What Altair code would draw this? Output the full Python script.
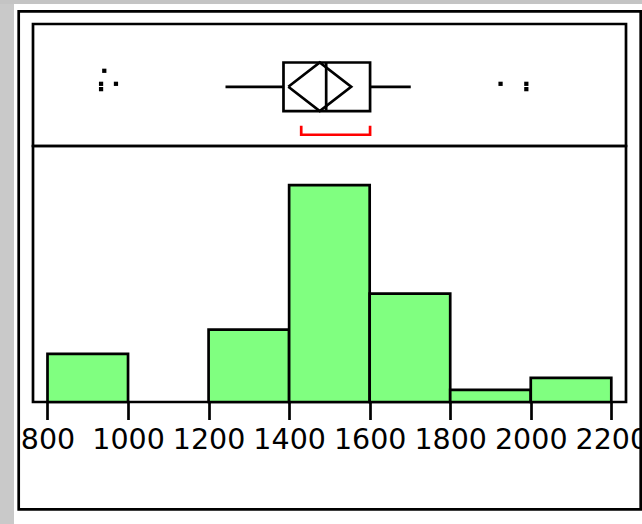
import altair as alt
import pandas as pd

# Histogram bins (width 200) and their counts
bin_starts = [800, 1000, 1200, 1400, 1600, 1800, 2000]
bin_width = 200
bin_counts = [4, 0, 6, 18, 9, 1, 2]

# Outlier box plot summary
quartiles = [1386, 1492, 1601]          # Q1, median, Q3
whiskers = [1242, 1702]                 # lower / upper whisker ends
mean_diamond = [1398, 1476, 1554]       # lower CI, mean, upper CI
shortest_half = [1430, 1601]

# Points beyond the whiskers and their vertical jitter
outlier_values = [941, 933, 933, 970, 1925, 1989, 1989]
outlier_jitter = [0.27, 0.05, -0.04, 0.05, 0.05, 0.05, -0.04]

tick_values = [800, 1000, 1200, 1400, 1600, 1800, 2000, 2200]

PANEL_W = 593
BOX_H = 122
HIST_H = 256
LINE_W = 2.7
HALF = 0.41        # half height of the box, in box-panel units
BRACKET = (-0.66, -0.81)

# page size and where the first panel starts
PAGE_W, PAGE_H = 642, 524
LEFT, TOP = 33, 24

xscale = alt.Scale(domain=[764, 2236.5], nice=False, zero=False)
yscale_box = alt.Scale(domain=[-1, 1.06], nice=False, zero=False)
yscale_hist = alt.Scale(domain=[0, 21.25], nice=False, zero=True)

# ---------- box plot panel ----------
one_row = alt.Data(values=[{}])

box_df = pd.DataFrame({"lo": [quartiles[0]], "hi": [quartiles[2]], "med": [quartiles[1]]})
whisker_df = pd.DataFrame({"a": [whiskers[0], quartiles[2]], "b": [quartiles[0], whiskers[1]]})
lo_ci, mean_v, hi_ci = mean_diamond
diamond_df = pd.DataFrame({
    "value": [lo_ci, mean_v, hi_ci, mean_v, lo_ci],
    "pos": [0, HALF, 0, -HALF, 0],
    "k": [0, 1, 2, 3, 4],
})
bracket_df = pd.DataFrame({
    "value": [shortest_half[0], shortest_half[0], shortest_half[1], shortest_half[1]],
    "pos": [BRACKET[0], BRACKET[1], BRACKET[1], BRACKET[0]],
    "k": [0, 1, 2, 3],
})
outlier_df = pd.DataFrame({"value": outlier_values, "pos": outlier_jitter})


def x_enc(field):
    return alt.X(field, scale=xscale, axis=None)


# window chrome and outer frame
chrome_left = alt.Chart(one_row).mark_rect(color="#c9c9c9").encode(
    x=alt.value(-LEFT), x2=alt.value(-LEFT + 14),
    y=alt.value(-TOP), y2=alt.value(PAGE_H - TOP),
)
chrome_top = alt.Chart(one_row).mark_rect(color="#c4c4c4").encode(
    x=alt.value(-LEFT), x2=alt.value(PAGE_W - LEFT),
    y=alt.value(-TOP), y2=alt.value(-TOP + 4),
)
outer_frame = alt.Chart(one_row).mark_rect(
    fill="white", fillOpacity=0, stroke="black", strokeWidth=LINE_W
).encode(
    x=alt.value(18.7 - LEFT), x2=alt.value(640.7 - LEFT),
    y=alt.value(11.3 - TOP), y2=alt.value(509.3 - TOP),
)

box = alt.Chart(box_df).mark_rect(
    fill="white", fillOpacity=0, stroke="black", strokeWidth=LINE_W
).encode(
    x=x_enc("lo:Q"), x2="hi:Q",
    y=alt.YDatum(HALF, scale=yscale_box, axis=None), y2=alt.Y2Datum(-HALF),
)
median_rule = alt.Chart(box_df).mark_rule(color="black", strokeWidth=LINE_W).encode(
    x=x_enc("med:Q"),
    y=alt.YDatum(HALF, scale=yscale_box, axis=None), y2=alt.Y2Datum(-HALF),
)
whisker_rules = alt.Chart(whisker_df).mark_rule(color="black", strokeWidth=LINE_W).encode(
    x=x_enc("a:Q"), x2="b:Q",
    y=alt.YDatum(0, scale=yscale_box, axis=None),
)
diamond = alt.Chart(diamond_df).mark_line(
    color="black", strokeWidth=LINE_W, strokeJoin="miter"
).encode(
    x=x_enc("value:Q"),
    y=alt.Y("pos:Q", scale=yscale_box, axis=None),
    order="k:Q",
)
bracket = alt.Chart(bracket_df).mark_line(
    color="#ff0000", strokeWidth=LINE_W, strokeJoin="miter"
).encode(
    x=x_enc("value:Q"),
    y=alt.Y("pos:Q", scale=yscale_box, axis=None),
    order="k:Q",
)
outliers = alt.Chart(outlier_df).mark_square(size=18, color="black", opacity=1).encode(
    x=x_enc("value:Q"),
    y=alt.Y("pos:Q", scale=yscale_box, axis=None),
)

box_panel = alt.layer(
    chrome_left, chrome_top, outer_frame,
    whisker_rules, box, median_rule, diamond, bracket, outliers,
).properties(width=PANEL_W, height=BOX_H)

# ---------- histogram panel ----------
hist_df = pd.DataFrame({
    "start": bin_starts,
    "end": [s + bin_width for s in bin_starts],
    "count": bin_counts,
})

hist_panel = alt.Chart(hist_df).transform_filter(
    alt.datum["count"] > 0
).mark_rect(
    fill="#80ff80", stroke="black", strokeWidth=LINE_W
).encode(
    x=alt.X(
        "start:Q", scale=xscale,
        axis=alt.Axis(
            values=tick_values, format="d", title=None, grid=False, domain=False,
            ticks=True, tickSize=17.5, tickWidth=LINE_W, tickColor="black",
            labelFont="DejaVu Sans", labelFontSize=28.5, labelColor="black",
            labelBaseline="alphabetic", labelPadding=28.8, labelOverlap=False,
            labelFlush=False, labelBound=False,
        ),
    ),
    x2="end:Q",
    y=alt.Y("count:Q", scale=yscale_hist, axis=None),
    y2=alt.Y2Datum(0),
).properties(width=PANEL_W, height=HIST_H)

# Fixed page size. With autosize "none" the stacked view reports the panel
# width and a zero height, so the padding supplies the rest of the page;
# anything past the right edge is cut off by the page itself.
PAD_RIGHT = PAGE_W - LEFT - PANEL_W
PAD_BOTTOM = PAGE_H - TOP

chart = alt.vconcat(box_panel, hist_panel, spacing=0, bounds="flush").properties(
    autosize=alt.AutoSizeParams(type="none"),
    padding={"left": LEFT, "top": TOP, "right": PAD_RIGHT, "bottom": PAD_BOTTOM},
    background="white",
).configure_view(
    stroke="black", strokeWidth=LINE_W
)

chart.save("out.html", embed_options={"renderer": "svg", "actions": False})
